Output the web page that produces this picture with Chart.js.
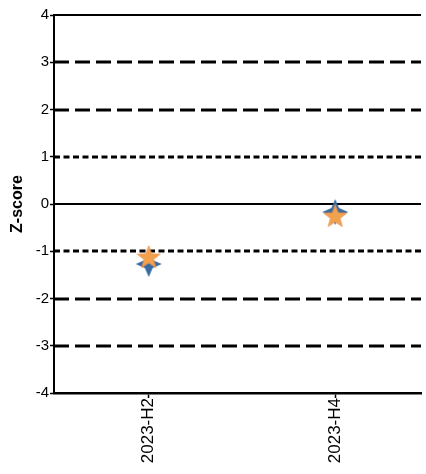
<!DOCTYPE html>
<html>
<head>
<meta charset="utf-8">
<script src="https://cdn.jsdelivr.net/npm/chart.js@4/dist/chart.umd.min.js"></script>
<style>
  html, body { margin: 0; padding: 0; background: #fff; }
  #wrap { width: 426px; height: 474px; }
</style>
</head>
<body>
<div id="wrap"><canvas id="chart" width="426" height="474"></canvas></div>
<script>
// categories on the x axis (index 0, 1)
const categories = ['2023-H2', '2023-H4'];
// z-scores of the two series
const seriesA = [-1.27, -0.17];   // blue 4-point star
const seriesB = [-1.14, -0.27];   // orange 5-point star
// horizontal reference levels
const refLevels = [4, 3, 2, 1, 0, -1, -2, -3];

function makeStar(points, outer, inner, fill, stroke) {
    const size = Math.ceil(outer * 2 + 4);
    const c = document.createElement('canvas');
    c.width = size;
    c.height = size;
    const g = c.getContext('2d');
    const cx = size / 2, cy = size / 2;
    g.beginPath();
    for (let i = 0; i < points * 2; i++) {
        const r = i % 2 === 0 ? outer : inner;
        const a = -Math.PI / 2 + i * Math.PI / points;
        const x = cx + r * Math.cos(a);
        const y = cy + r * Math.sin(a);
        if (i === 0) g.moveTo(x, y); else g.lineTo(x, y);
    }
    g.closePath();
    g.fillStyle = fill;
    g.fill();
    if (stroke) {
        g.lineWidth = 0.8;
        g.strokeStyle = stroke;
        g.stroke();
    }
    return c;
}

const blueStar = makeStar(4, 13, 5.5, '#3a6aa2', null);
const orangeStar = makeStar(5, 12, 5, '#f2a24e', '#e8934a');

const refLines = {
    id: 'refLines',
    beforeDatasetsDraw(chart) {
        const { ctx, chartArea, scales } = chart;
        ctx.save();
        refLevels.forEach(v => {
            const y = Math.round(scales.y.getPixelForValue(v));
            const a = Math.abs(v);
            ctx.beginPath();
            ctx.strokeStyle = '#000';
            if (a === 0 || a === 4) {
                ctx.lineWidth = 2;
                ctx.setLineDash([]);
            } else if (a === 1) {
                ctx.lineWidth = 3;
                ctx.setLineDash([6, 3.5]);
            } else {
                ctx.lineWidth = 3;
                ctx.setLineDash([15, 6]);
            }
            ctx.moveTo(chartArea.left, y);
            ctx.lineTo(chartArea.right, y);
            ctx.stroke();
        });
        ctx.restore();
    }
};

const font = 'Liberation Sans, Arial, sans-serif';

new Chart(document.getElementById('chart'), {
    type: 'scatter',
    data: {
        datasets: [
            {
                label: 'B',
                data: seriesB.map((v, i) => ({ x: i, y: v })),
                pointStyle: orangeStar,
                order: 0,
            },
            {
                label: 'A',
                data: seriesA.map((v, i) => ({ x: i, y: v })),
                pointStyle: blueStar,
                order: 1,
            },
        ],
    },
    options: {
        responsive: false,
        animation: false,
        layout: { padding: { left: 0, top: 15, right: 0, bottom: 0 } },
        plugins: {
            legend: { display: false },
            tooltip: { enabled: false },
        },
        scales: {
            x: {
                type: 'linear',
                min: -0.508,
                max: 1.46,
                afterBuildTicks(scale) {
                    scale.ticks = categories.map((c, i) => ({ value: i }));
                },
                afterFit(scale) { scale.height = 81; },
                grid: {
                    drawOnChartArea: false,
                    drawTicks: true,
                    tickLength: 5,
                    tickWidth: 1.5,
                    tickColor: '#000',
                },
                border: { color: '#000', width: 2.5 },
                ticks: {
                    minRotation: 90,
                    maxRotation: 90,
                    padding: 0,
                    color: '#000',
                    font: { family: font, size: 17 },
                    callback: v => categories[v] ?? '',
                },
            },
            y: {
                min: -4,
                max: 4,
                afterFit(scale) { scale.width = 54; },
                grid: {
                    drawOnChartArea: false,
                    drawTicks: true,
                    tickLength: 4,
                    tickWidth: 1.5,
                    tickColor: '#000',
                },
                border: { color: '#000', width: 2 },
                ticks: {
                    stepSize: 1,
                    padding: 1,
                    color: '#000',
                    font: { family: font, size: 15 },
                },
                title: {
                    display: true,
                    text: 'Z-score',
                    color: '#000',
                    padding: { top: 8, bottom: 4 },
                    font: { family: font, size: 16, weight: 'bold' },
                },
            },
        },
    },
    plugins: [refLines],
});
</script>
</body>
</html>
